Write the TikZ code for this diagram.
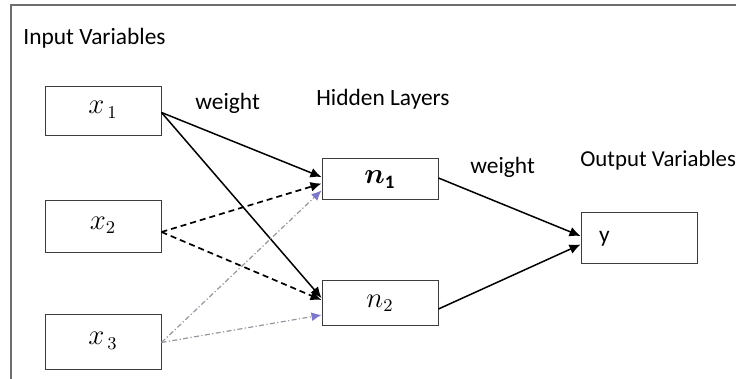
\documentclass[tikz,border=0pt]{standalone}
\usepackage{fontspec}
\usepackage{amsmath,bm}
\setmainfont{Carlito}
\usetikzlibrary{arrows.meta,calc}
\definecolor{framegray}{RGB}{110,110,110}
\definecolor{boxgray}{RGB}{60,60,60}
\definecolor{dotgray}{RGB}{150,150,160}
\definecolor{tipblue}{RGB}{125,120,205}

\begin{document}
\begin{tikzpicture} [x=0.5pt, y=-0.5pt, %
  font=\fontsize{11.7}{13}\selectfont, %
  varbox/.style={draw=boxgray, line width=0.5pt, rectangle, minimum width=58pt, inner sep=0pt}, %
  mlbl/.style={font=\fontsize{13.5}{15}\selectfont}, %
  lbl/.style={anchor=west, inner sep=0pt}, %
  wline/.style={line width=0.75pt, -{Latex[length=5.5pt,width=5pt]}}, %
  wdash/.style={wline, line width=0.85pt, dash pattern=on 3pt off 2pt}, %
  wdot/.style={line width=0.6pt, dotgray, dash pattern=on 2.5pt off 1.2pt on 0.6pt off 1.2pt, %
    -{Latex[length=5pt,width=4.5pt,color=tipblue]}}] %
\useasboundingbox (0,0) rectangle (740,379); %
\draw [framegray, line width=0.75pt] (11,379) -- (11,5) -- (736,5); %
 %
% inputs, hidden units, output
\node [varbox, mlbl, minimum height=24.5pt] (x1) at (103,111.5) {$x_{\,1}$\rule[-4pt]{0pt}{0pt}}; %
\node [varbox, mlbl, minimum height=26pt] (x2) at (103,227) {$x_2$\rule[-4pt]{0pt}{0pt}}; %
\node [varbox, mlbl, minimum height=27.5pt] (x3) at (103,342.5) {$x_{\,3}$\rule[-4pt]{0pt}{0pt}}; %
\node [varbox, mlbl, minimum height=20.5pt] (n1) at (380,179.5) {$\bm{n}_{\mathbf{1}}$}; %
\node [varbox, mlbl, minimum height=22.5pt] (n2) at (380,303) {$n_2$}; %
\node [varbox, minimum height=25.5pt, text width=40pt, align=left] (out) at (639,238.5) {y\\[2pt]}; %
 %
\node [lbl] (inlbl) at (23,38) {Input Variables}; %
\node [lbl] (w1) at (195,103) {weight}; %
\node [lbl] (hidlbl) at (316,99) {Hidden Layers}; %
\node [lbl] (w2) at (470,167) {weight}; %
\node [lbl, font=\fontsize{11.4}{13}\selectfont] (outlbl) at (580,160) {Output Variables}; %
 %
\draw [wline] ($(x1.east)+(0,1)$) -- ($(n1.west)+(0,-2.5)$); %
\draw [wline] ($(x1.east)+(0,1)$) -- ($(n2.west)+(0,-5)$); %
\draw [wdash] ($(x2.east)+(0,5)$) -- ($(n1.west)+(0,4)$); %
\draw [wdash] ($(x2.east)+(0,5)$) -- ($(n2.west)+(0,-3)$); %
\draw [wdot] (x3.east) -- ($(n1.west)+(0,11)$); %
\draw [wdot] (x3.east) -- ($(n2.west)+(0,12)$); %
\draw [wline] ($(n1.east)+(0,-1.5)$) -- ($(out.west)+(0,-2.5)$); %
\draw [wline] ($(n2.east)+(0,6)$) -- ($(out.west)+(0,6)$); %
\end{tikzpicture}
\end{document}
